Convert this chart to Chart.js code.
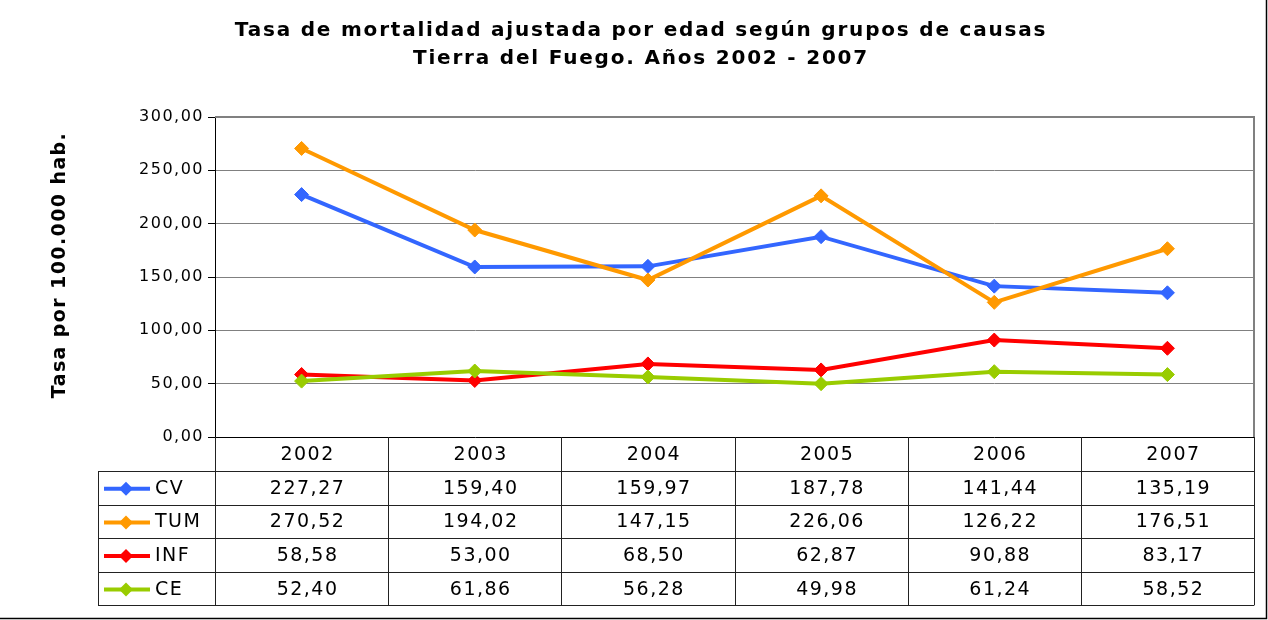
<!DOCTYPE html>
<html><head><meta charset="utf-8">
<script src="https://cdn.jsdelivr.net/npm/chart.js@4/dist/chart.umd.min.js"></script>
<style>html,body{margin:0;padding:0;background:#fff}canvas{display:block}</style>
</head><body>
<canvas id="c" width="1268" height="620"></canvas>
<script>
const titleLines = ["Tasa de mortalidad ajustada por edad según grupos de causas", "Tierra del Fuego. Años 2002 - 2007"];
const yAxisTitle = "Tasa por 100.000 hab.";
const years = ["2002", "2003", "2004", "2005", "2006", "2007"];
const seriesNames = ["CV", "TUM", "INF", "CE"];
const cvValues = [227.27, 159.40, 159.97, 187.78, 141.44, 135.19];
const tumValues = [270.52, 194.02, 147.15, 226.06, 126.22, 176.51];
const infValues = [58.58, 53.00, 68.50, 62.87, 90.88, 83.17];
const ceValues = [52.40, 61.86, 56.28, 49.98, 61.24, 58.52];
const seriesColors = ["#3366FF", "#FF9900", "#FF0000", "#99CC00"];
const yMin = 0, yMax = 300, yStep = 50;

const allValues = [cvValues, tumValues, infValues, ceValues];
const fmt = v => v.toFixed(2).replace('.', ',');
const FONT = "'DejaVu Sans', Verdana, sans-serif";

const datasets = seriesNames.map((n, i) => ({
  label: n,
  data: allValues[i],
  borderColor: seriesColors[i],
  backgroundColor: seriesColors[i],
  borderWidth: 4,
  pointStyle: 'rectRot',
  pointRadius: 7,
  pointHoverRadius: 7,
  pointBorderWidth: 1,
  tension: 0,
  order: 4 - i
}));

const decor = {
  id: 'decor',
  beforeDraw(chart) {
    const ctx = chart.ctx;
    ctx.save();
    ctx.fillStyle = '#fff';
    ctx.fillRect(0, 0, chart.width, chart.height);
    // title
    ctx.fillStyle = '#000';
    ctx.font = "bold 20px " + FONT;
    ctx.textAlign = 'center';
    ctx.textBaseline = 'middle';
    ctx.letterSpacing = '1.8px';
    ctx.fillText(titleLines[0], 641, 31);
    ctx.fillText(titleLines[1], 641, 59);
    // y axis title
    ctx.font = "bold 19px " + FONT;
    ctx.letterSpacing = '1.4px';
    ctx.translate(60, 265);
    ctx.rotate(-Math.PI / 2);
    ctx.fillText(yAxisTitle, 0, 0);
    ctx.restore();
    ctx.letterSpacing = '1.5px';
  },
  afterDraw(chart) {
    const ctx = chart.ctx;
    const x = chart.scales.x;
    const a = chart.chartArea;
    const n = years.length;
    const colW = (a.right - a.left) / n;
    const legLeft = 98;
    const headTop = a.bottom, rowH = 33.6;
    const rowTop = headTop + 34;
    const tableBottom = rowTop + rowH * seriesNames.length;
    ctx.save();
    ctx.letterSpacing = '0px';
    ctx.strokeStyle = '#808080';
    ctx.lineWidth = 2;
    ctx.beginPath();
    ctx.moveTo(a.left, a.top); ctx.lineTo(a.right, a.top); ctx.lineTo(a.right, a.bottom);
    ctx.stroke();
    ctx.strokeStyle = '#222';
    ctx.lineWidth = 1;
    ctx.beginPath();
    for (let k = 0; k <= n; k++) {
      const xx = Math.round(a.left + colW * k) + 0.5;
      ctx.moveTo(xx, headTop); ctx.lineTo(xx, tableBottom);
    }
    ctx.moveTo(legLeft + 0.5, rowTop); ctx.lineTo(legLeft + 0.5, tableBottom);
    for (let r = 0; r <= seriesNames.length; r++) {
      const yy = Math.round(rowTop + rowH * r) + 0.5;
      ctx.moveTo(legLeft, yy); ctx.lineTo(a.right, yy);
    }
    ctx.stroke();
    ctx.strokeStyle = '#000';
    ctx.lineWidth = 1.5;
    ctx.beginPath();
    ctx.moveTo(1266.5, 0); ctx.lineTo(1266.5, 618.5); ctx.lineTo(0, 618.5);
    ctx.stroke();
    ctx.fillStyle = '#000';
    ctx.font = "19px " + FONT;
    ctx.letterSpacing = '1.5px';
    ctx.textAlign = 'center';
    ctx.textBaseline = 'middle';
    years.forEach((yr, k) => {
      ctx.fillText(yr, x.getPixelForValue(k) + 6, headTop + 18);
    });
    seriesNames.forEach((name, r) => {
      const cy = rowTop + rowH * r + rowH / 2 + 1;
      ctx.strokeStyle = seriesColors[r];
      ctx.lineWidth = 4;
      ctx.beginPath();
      ctx.moveTo(104, cy); ctx.lineTo(150, cy);
      ctx.stroke();
      ctx.fillStyle = seriesColors[r];
      ctx.beginPath();
      ctx.moveTo(126, cy - 7); ctx.lineTo(133, cy); ctx.lineTo(126, cy + 7); ctx.lineTo(119, cy);
      ctx.closePath(); ctx.fill();
      ctx.fillStyle = '#000';
      ctx.textAlign = 'left';
      ctx.fillText(name, 155, cy);
      ctx.textAlign = 'center';
      allValues[r].forEach((v, k) => {
        ctx.fillText(fmt(v), x.getPixelForValue(k) + 6, cy);
      });
    });
    ctx.restore();
  }
};

new Chart(document.getElementById('c'), {
  type: 'line',
  data: { labels: years, datasets },
  plugins: [decor],
  options: {
    responsive: false,
    animation: false,
    events: [],
    layout: { padding: { left: 50, right: 14, top: 117, bottom: 183 } },
    plugins: { legend: { display: false }, title: { display: false }, tooltip: { enabled: false } },
    scales: {
      x: { display: false, offset: true },
      y: {
        min: yMin, max: yMax,
        afterFit(scale) { scale.width = 165; },
        ticks: {
          stepSize: yStep,
          color: '#000',
          padding: 4,
          font: { family: FONT, size: 16 },
          callback: v => fmt(v)
        },
        grid: {
          color: ctx => ctx.tick && ctx.tick.value === 0 ? '#000' : '#808080',
          lineWidth: 1,
          tickLength: 7,
          tickColor: '#000'
        },
        border: { color: '#000', width: 1 },
        title: { display: false }
      }
    }
  }
});
</script>
</body></html>
